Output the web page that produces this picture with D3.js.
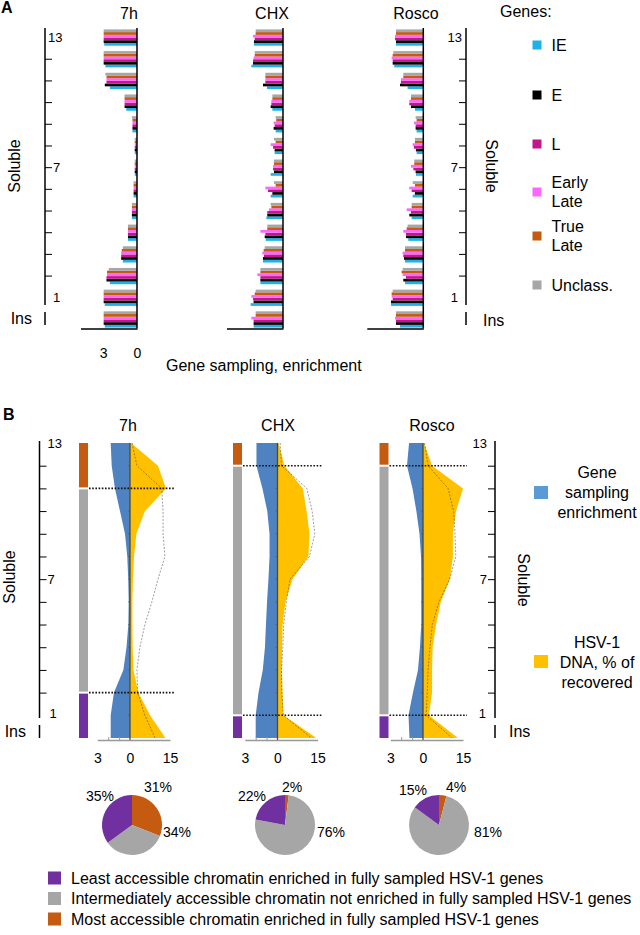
<!DOCTYPE html>
<html>
<head>
<meta charset="utf-8">
<script src="https://cdn.jsdelivr.net/npm/d3@7"></script>
<style>
  body { margin: 0; background: #fff; }
  svg { font-family: "Liberation Sans", Arial, sans-serif; }
</style>
</head>
<body>
<svg id="fig" width="640" height="935"></svg>
<script>
// fractions, top (most soluble) to bottom (insoluble)
const fractions = ["13","12","11","10","9","8","7","6","5","4","3","2","1","Ins"]
const levels = fractions.map(f => f === "Ins" ? 0 : +f)

const geneClasses = ["IE", "E", "L", "Early Late", "True Late", "Unclass."]
const geneColors = ["#1eb1ea", "#000000", "#c2168c", "#ff66ff", "#c55a11", "#a6a6a6"]

// panel A: gene sampling enrichment, one value per fraction
const h7IE  = [2.9, 2.8, 2.4, 0.95, 0.4, 0.2, 0.2, 0.3, 0.45, 0.8, 1.25, 2.4, 2.85, 2.85]
const h7E   = [2.95, 2.95, 2.85, 1.1, 0.4, 0.2, 0.2, 0.3, 0.45, 0.8, 1.4, 2.7, 2.95, 2.95]
const h7L   = [2.95, 2.95, 2.7, 1.1, 0.4, 0.2, 0.2, 0.3, 0.45, 0.8, 1.4, 2.7, 2.95, 2.95]
const h7EL  = [2.95, 2.95, 2.7, 1.1, 0.4, 0.2, 0.2, 0.3, 0.45, 0.8, 1.4, 2.65, 2.95, 2.95]
const h7TL  = [2.95, 2.95, 2.7, 1.1, 0.4, 0.2, 0.2, 0.3, 0.45, 0.8, 1.35, 2.65, 2.95, 2.95]
const h7Un  = [2.95, 2.95, 2.8, 1.1, 0.45, 0.2, 0.2, 0.3, 0.45, 0.8, 1.25, 2.5, 2.95, 2.95]

const chxIE = [2.57, 2.8, 1.42, 0.94, 0.65, 0.74, 1.09, 1.09, 1.47, 1.53, 1.77, 2.0, 2.86, 2.6]
const chxE  = [2.57, 2.65, 1.77, 1.09, 0.83, 0.74, 0.8, 0.94, 1.39, 1.62, 1.77, 2.0, 2.6, 2.6]
const chxL  = [2.5, 2.65, 1.56, 1.03, 0.74, 0.88, 0.88, 1.33, 1.39, 1.56, 1.68, 2.0, 2.65, 2.6]
const chxEL = [2.65, 2.6, 1.56, 1.03, 0.83, 1.09, 0.88, 1.56, 1.24, 2.0, 1.83, 2.27, 2.8, 2.8]
const chxTL = [2.42, 2.5, 1.56, 0.94, 0.6, 0.65, 0.8, 0.65, 1.03, 1.39, 1.71, 2.0, 2.5, 2.42]
const chxUn = [2.42, 2.5, 1.56, 0.94, 0.65, 0.8, 0.8, 0.8, 1.09, 1.39, 1.62, 2.0, 2.42, 2.42]

const rosIE = [2.42, 2.57, 1.39, 0.74, 0.59, 0.59, 0.65, 0.94, 1.03, 1.33, 1.62, 1.62, 2.86, 2.06]
const rosE  = [2.42, 2.71, 2.06, 1.09, 0.68, 0.65, 0.68, 0.74, 1.24, 1.53, 1.71, 1.77, 2.86, 2.42]
const rosL  = [2.5, 2.71, 1.98, 1.24, 0.68, 0.83, 0.88, 1.03, 1.09, 1.53, 1.77, 1.53, 2.71, 2.42]
const rosEL = [2.5, 2.8, 1.98, 1.24, 0.83, 0.94, 1.09, 1.24, 1.47, 1.77, 1.83, 1.83, 2.8, 2.5]
const rosTL = [2.42, 2.71, 1.77, 1.09, 0.59, 0.74, 0.8, 0.74, 1.03, 1.47, 1.62, 1.92, 2.8, 2.42]
const rosUn = [2.42, 2.65, 1.77, 1.09, 0.68, 0.74, 0.8, 0.94, 1.03, 1.39, 1.62, 1.83, 2.71, 2.42]

// panel B: gene sampling enrichment (blue), HSV-1 DNA % recovered (yellow), dashed trace
const b7hGene  = [1.77, 1.68, 1.38, 0.92, 0.46, 0.25, 0.16, 0.12, 0.15, 0.32, 0.61, 1.47, 1.77, 1.77]
const b7hDna   = [0.4, 10.5, 13.5, 5.6, 2.4, 1.5, 1.1, 0.9, 0.9, 1.0, 1.3, 3.1, 7.5, 13.3]
const b7hTrace = [0.75, 2.6, 11.9, 12.4, 12.4, 13.1, 10.5, 8.2, 5.6, 3.7, 2.6, 2.9, 5.6, 9.4]

const bChxGene  = [1.93, 1.93, 1.38, 0.94, 0.73, 0.73, 0.83, 0.96, 1.06, 1.15, 1.35, 1.74, 2.0, 2.0]
const bChxDna   = [0.4, 2.6, 9.5, 10.9, 12, 11.6, 5.6, 3.0, 1.9, 1.7, 1.6, 1.9, 2.2, 14.6]
const bChxTrace = [1.0, 1.5, 11, 13, 14, 12, 4.7, 3.3, 2.3, 2.0, 1.5, 1.6, 2.2, 12.7]

const bRosGene  = [1.28, 1.47, 0.96, 0.61, 0.32, 0.18, 0.16, 0.16, 0.16, 0.28, 0.46, 0.92, 1.33, 1.24]
const bRosDna   = [0.4, 3.4, 15, 12.4, 11.2, 11.2, 10.1, 6.7, 4.9, 3.6, 3.4, 3.4, 2.2, 13.1]
const bRosTrace = [0.6, 1.9, 9.4, 11.5, 12, 12.3, 10, 6, 3.5, 2.6, 1.9, 1.6, 1.2, 10.9]

// chromatin class boundaries (fraction levels): most | intermediate | least
const b7hBounds  = [13, 11, 2, 0]
const bChxBounds = [13, 12, 1, 0]
const bRosBounds = [13, 12, 1, 0]

const chromClasses = ["Most accessible chromatin enriched in fully sampled HSV-1 genes",
  "Intermediately accessible chromatin not enriched in fully sampled HSV-1 genes",
  "Least accessible chromatin enriched in fully sampled HSV-1 genes"]
const chromColors = ["#c55a11", "#a6a6a6", "#7030a0"]

// pies: % most, intermediate, least
const pie7h  = [31, 34, 35]
const pieChx = [2, 76, 22]
const pieRos = [4, 81, 15]

const svg = d3.select("#fig")
svg.append("rect").attr("width", 640).attr("height", 935).attr("fill", "#fff")

function txt(g, x, y, s, size, anchor) {
  return g.append("text").attr("x", x).attr("y", y).attr("font-size", size)
    .attr("text-anchor", anchor || "start").attr("fill", "#000").text(s)
}

// ---------------- panel A ----------------
txt(svg, 1, 13, "A", 16).attr("font-weight", "bold")

const yA = d3.scaleBand().domain(fractions).range([26.7, 330.3])
  .paddingInner(0.25).paddingOuter(0.125)
const ySub = d3.scaleBand().domain([...geneClasses].reverse()).range([0, yA.bandwidth()])

const aPanels = [
  { title: "7h", zero: 137, titleX: 129, series: [h7IE, h7E, h7L, h7EL, h7TL, h7Un], labels: true },
  { title: "CHX", zero: 283, titleX: 272, series: [chxIE, chxE, chxL, chxEL, chxTL, chxUn] },
  { title: "Rosco", zero: 423.3, titleX: 416, series: [rosIE, rosE, rosL, rosEL, rosTL, rosUn] }
]

aPanels.forEach(p => {
  const x = d3.scaleLinear().domain([0, 5]).range([p.zero, p.zero - 56.5])
  const g = svg.append("g")
  geneClasses.forEach((cls, i) => {
    g.selectAll(null).data(p.series[i]).join("rect")
      .attr("x", d => x(d))
      .attr("width", d => x(0) - x(d))
      .attr("y", (d, j) => yA(fractions[j]) + ySub(cls))
      .attr("height", ySub.bandwidth())
      .attr("fill", geneColors[i])
  })
  g.append("line").attr("x1", x(0)).attr("x2", x(0)).attr("y1", 28).attr("y2", 328.5)
    .attr("stroke", "#000").attr("stroke-width", 1.5)
  const ax = g.append("g").attr("transform", "translate(0,328.5)")
    .call(d3.axisBottom(x).tickValues(p.labels ? [3, 0] : []).tickFormat(d3.format("d"))
      .tickSize(0).tickSizeOuter(0).tickPadding(20))
  ax.attr("font-size", 14).attr("font-family", null)
  ax.select(".domain").attr("stroke-width", 1.5)
  txt(svg, p.titleX, 19, p.title, 16, "middle")
})

txt(svg, 166, 371, "Gene sampling, enrichment", 16)

// fraction axis (left or right) with 13 / 7 / 1 labels and the Ins marker
function fractionAxis(x, side, scaleY, top, bottom, label13X, label1X, ins) {
  const axis = side === "right" ? d3.axisRight(scaleY) : d3.axisLeft(scaleY)
  const g = svg.append("g").attr("transform", `translate(${x},0)`)
    .call(axis.tickValues(ins.ticks).tickSize(7).tickPadding(1)
      .tickFormat(d => String(d) === "7" ? "7" : ""))
  g.attr("font-size", 13).attr("font-family", null)
  g.select(".domain").remove()
  g.append("line").attr("y1", top).attr("y2", bottom).attr("stroke", "#000").attr("stroke-width", 1.5)
  const anchor = side === "right" ? "start" : "end"
  txt(g, label13X, ins.pos13, "13", 13, anchor).attr("dy", "0.35em")
  txt(g, label1X, ins.pos1, "1", 13, anchor).attr("dy", "0.35em")
  g.append("line").attr("y1", ins.insTop).attr("y2", ins.insBottom)
    .attr("stroke", "#000").attr("stroke-width", 1.5)
  return g
}

const bwA = yA.bandwidth() / 2
const aTicks = fractions.slice(1, 12)
fractionAxis(45, "right", yA, 28, 305, 3, 8,
  { ticks: aTicks, pos13: yA("13") + bwA, pos1: yA("1") + bwA, insTop: 312, insBottom: 325 })
fractionAxis(466, "left", yA, 28, 305, -4, -8,
  { ticks: aTicks, pos13: yA("13") + bwA, pos1: yA("1") + bwA, insTop: 312, insBottom: 325 })

txt(svg, 32, 324, "Ins", 16, "end")
txt(svg, 483, 326, "Ins", 16)
txt(svg, 0, 0, "Soluble", 16, "middle").attr("transform", "translate(20,166) rotate(-90)")
txt(svg, 0, 0, "Soluble", 16, "middle").attr("transform", "translate(486,166) rotate(90)")

// legend A
txt(svg, 500, 17, "Genes:", 16)
const legendAY = [45, 95, 144, 192, 236, 285]
geneClasses.forEach((cls, i) => {
  const y = legendAY[i]
  svg.append("rect").attr("x", 532.5).attr("y", y - 4.5).attr("width", 9).attr("height", 9)
    .attr("fill", geneColors[i])
  const lines = cls.includes(" ") ? cls.split(" ") : [cls]
  lines.forEach((s, k) => {
    txt(svg, 551.5, y + (k - (lines.length - 1) / 2) * 19.5, s, 16).attr("dy", "0.35em")
  })
})

// ---------------- panel B ----------------
txt(svg, 3, 420, "B", 16).attr("font-weight", "bold")

const yB = d3.scaleLinear().domain([0, 13]).range([738, 443])

const bPanels = [
  { title: "7h", zero: 130, titleX: 128, stripX: 79, gene: b7hGene, dna: b7hDna, trace: b7hTrace,
    bounds: b7hBounds, pie: pie7h, pieX: 132,
    pieLabels: [[26, -38], [45, 7], [-32, -29]] },
  { title: "CHX", zero: 277.5, titleX: 278, stripX: 233, gene: bChxGene, dna: bChxDna, trace: bChxTrace,
    bounds: bChxBounds, pie: pieChx, pieX: 285,
    pieLabels: [[7, -38], [46, 7], [-33, -29]] },
  { title: "Rosco", zero: 423, titleX: 432, stripX: 379.5, gene: bRosGene, dna: bRosDna, trace: bRosTrace,
    bounds: bRosBounds, pie: pieRos, pieX: 439,
    pieLabels: [[17, -38], [49, 7], [-26, -35]] }
]

const pieGen = d3.pie().sort(null)
const arc = d3.arc().innerRadius(0).outerRadius(30)

bPanels.forEach(p => {
  const x = d3.scaleLinear().domain([-3, 0, 15]).range([p.zero - 32.7, p.zero, p.zero + 40])
  const g = svg.append("g")

  g.append("path").datum(p.dna)
    .attr("d", d3.area().y((d, i) => yB(levels[i])).x0(x(0)).x1(d => x(d)))
    .attr("fill", "#ffc000")
  g.append("path").datum(p.gene)
    .attr("d", d3.area().y((d, i) => yB(levels[i])).x0(x(0)).x1(d => x(-d)))
    .attr("fill", "#4e82c0")
  g.append("path").datum(p.trace)
    .attr("d", d3.line().y((d, i) => yB(levels[i])).x(d => x(d)))
    .attr("fill", "none").attr("stroke", "#333").attr("stroke-opacity", 0.6)
    .attr("stroke-width", 0.8).attr("stroke-dasharray", "2,1.5")

  // small ticks along the zero line
  g.selectAll(null).data(levels.slice(1, 13)).join("line")
    .attr("x1", x(0) - 2).attr("x2", x(0)).attr("y1", d => yB(d)).attr("y2", d => yB(d))
    .attr("stroke", "#555").attr("stroke-width", 0.6)
  g.append("line").attr("x1", x(0)).attr("x2", x(0)).attr("y1", yB(13)).attr("y2", 740)
    .attr("stroke", "#4a4a3a").attr("stroke-width", 1.3)

  // chromatin class strip
  const segs = d3.range(3).map(i => [p.bounds[i], p.bounds[i + 1]])
  g.selectAll(null).data(segs).join("rect")
    .attr("x", p.stripX).attr("width", 9)
    .attr("y", (d, i) => yB(d[0]) + (i > 0 ? 1 : 0))
    .attr("height", (d, i) => yB(d[1]) - yB(d[0]) - (i > 0 ? 1 : 0) - (i < 2 ? 1 : 0))
    .attr("fill", (d, i) => chromColors[i])

  g.selectAll(null).data(p.bounds.slice(1, 3)).join("line")
    .attr("x1", p.stripX + 10).attr("x2", x(0) + 44)
    .attr("y1", d => yB(d)).attr("y2", d => yB(d))
    .attr("stroke", "#111").attr("stroke-width", 1.6).attr("stroke-dasharray", "1.6,1.6")

  // bottom axis
  const ax = g.append("g").attr("transform", "translate(0,740)")
    .call(d3.axisBottom(x).tickValues([-3, 0, 15]).tickFormat(d => Math.abs(d))
      .tickSize(0).tickSizeOuter(0).tickPadding(13))
  ax.attr("font-size", 14).attr("font-family", null)
  ax.select(".domain").attr("stroke", "#999").attr("stroke-width", 1.5)
  const mt = g.append("g").attr("transform", "translate(0,740)")
    .call(d3.axisTop(x).tickValues([-2, -1]).tickFormat("").tickSize(3).tickSizeOuter(0))
  mt.select(".domain").remove()
  mt.selectAll("line").attr("stroke", "#999")

  txt(svg, p.titleX, 431, p.title, 16, "middle")

  // pie
  const pg = svg.append("g").attr("transform", `translate(${p.pieX},825)`)
  const arcs = pieGen(p.pie)
  pg.selectAll("path").data(arcs).join("path")
    .attr("d", arc).attr("fill", (d, i) => chromColors[i])
  pg.selectAll("text").data(arcs).join("text")
    .attr("x", (d, i) => p.pieLabels[i][0]).attr("y", (d, i) => p.pieLabels[i][1])
    .attr("dy", "0.35em").attr("text-anchor", "middle").attr("font-size", 14)
    .text(d => d.data + "%")
})

// fraction axes of panel B
const bTicks = d3.range(2, 13)
fractionAxis(39.5, "right", yB, 441, 718, 8, 10,
  { ticks: bTicks, pos13: yB(13), pos1: yB(1) - 2, insTop: 725, insBottom: 738 })
fractionAxis(495, "left", yB, 441, 718, -8, -9,
  { ticks: bTicks, pos13: yB(13), pos1: yB(1) - 2, insTop: 725, insBottom: 738 })

txt(svg, 26, 737, "Ins", 16, "end")
txt(svg, 509, 737, "Ins", 16)
txt(svg, 0, 0, "Soluble", 16, "middle").attr("transform", "translate(15,577) rotate(-90)")
txt(svg, 0, 0, "Soluble", 16, "middle").attr("transform", "translate(518,580) rotate(90)")

// legend B
const legendB = [
  { color: "#5b9bd5", y: 486, lines: ["Gene", "sampling", "enrichment"], base: 478 },
  { color: "#ffc000", y: 655, lines: ["HSV-1", "DNA, % of", "recovered"], base: 648 }
]
legendB.forEach(l => {
  svg.append("rect").attr("x", 534).attr("y", l.y).attr("width", 14).attr("height", 13).attr("fill", l.color)
  l.lines.forEach((s, k) => txt(svg, 597, l.base + k * 20, s, 16, "middle"))
})

// bottom legend (least, intermediate, most)
const legendOrder = [2, 1, 0]
legendOrder.forEach((ci, k) => {
  const y = 878 + k * 20.5
  svg.append("rect").attr("x", 48).attr("y", y - 6.5).attr("width", 13).attr("height", 13)
    .attr("fill", chromColors[ci])
  txt(svg, 71, y, chromClasses[ci], 16).attr("dy", "0.35em")
})
</script>
</body>
</html>
